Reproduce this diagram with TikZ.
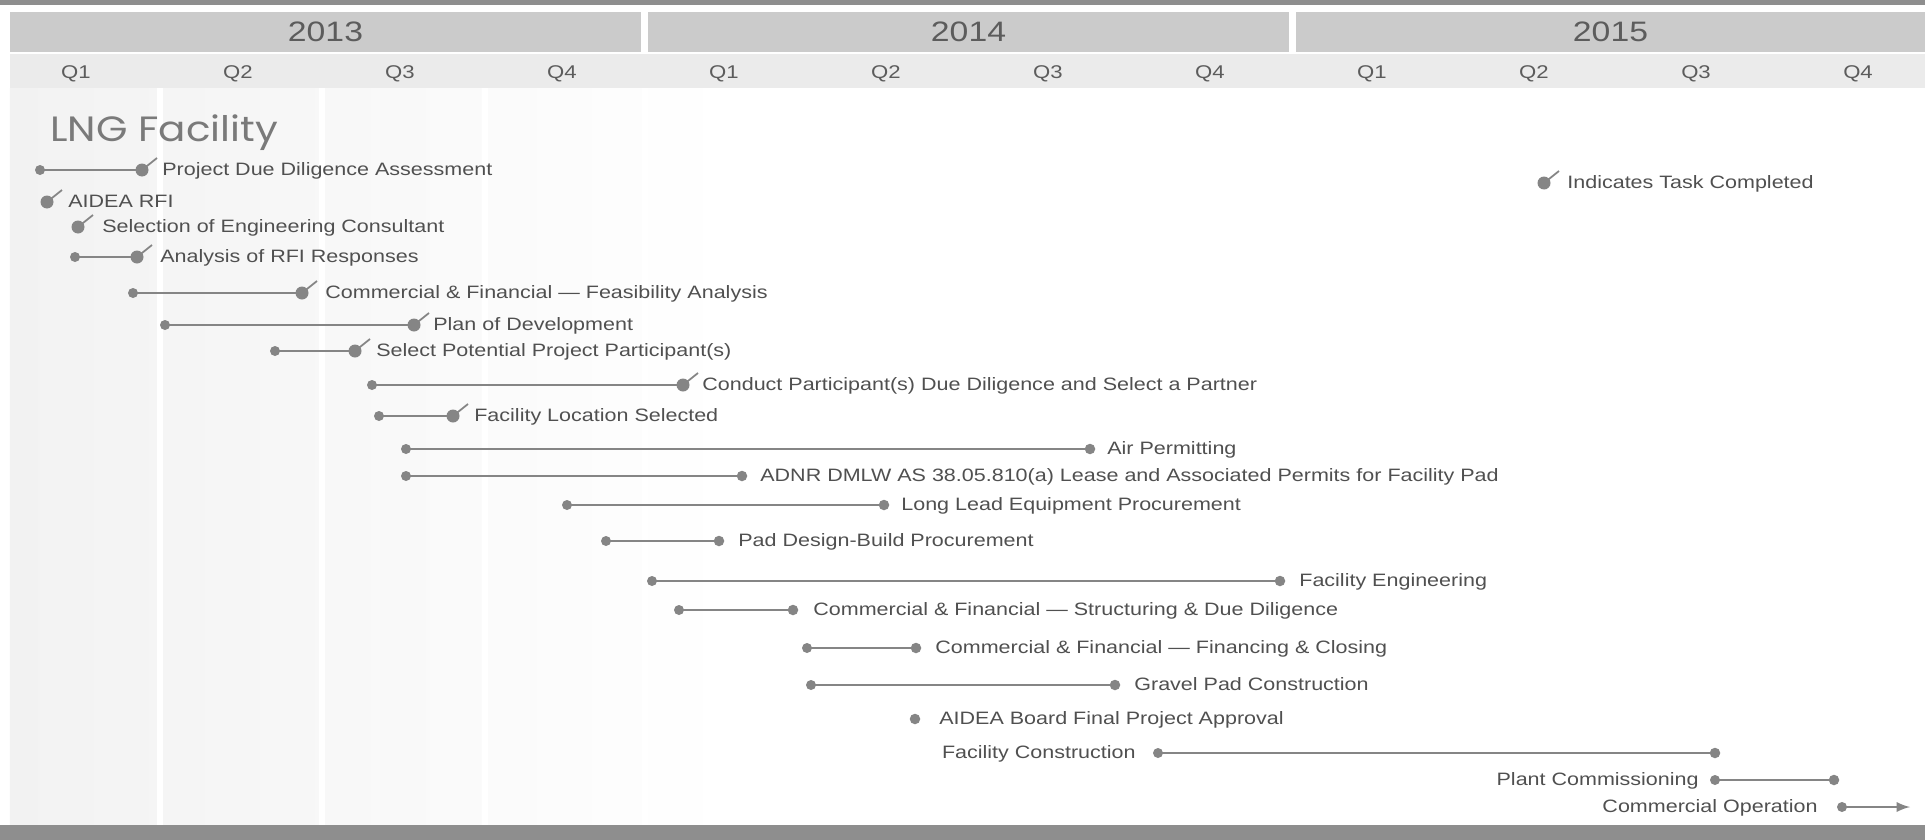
\documentclass[tikz,border=0pt]{standalone}
\usepackage{fontspec}
\setmainfont{Liberation Sans}[FakeStretch=1.2]
\newfontfamily\titlefont{Poppins}[FakeStretch=1.15]
\usetikzlibrary{arrows}
\definecolor{BarGray}{HTML}{858585}
\definecolor{TaskText}{HTML}{505050}
\definecolor{HeadText}{HTML}{5C5C5C}
\definecolor{YearBand}{HTML}{CBCBCB}
\definecolor{QuarterBand}{HTML}{EBEBEB}
\definecolor{EdgeBand}{HTML}{8E8E8E}
\definecolor{Column}{HTML}{F2F2F2}
\tikzstyle{none}=[inner sep=0pt]
\tikzstyle{tick}=[-,draw=BarGray,line width=1pt]
\tikzstyle{start}=[circle,fill=BarGray,inner sep=0pt,minimum size=2.0mm]
\tikzstyle{finish}=[circle,fill=BarGray,inner sep=0pt,minimum size=2.1mm]
\tikzstyle{done}=[circle,fill=BarGray,inner sep=0pt,minimum size=2.6mm,
  append after command={(\tikzlastnode.center) edge[style=tick] ++(0.30,0.24)}]
\tikzstyle{bar}=[-,draw=BarGray,line width=1.6pt]
\tikzstyle{arrow}=[-latex,draw=BarGray,line width=1.6pt]
\tikzstyle{task}=[inner sep=0pt,anchor=west,text=TaskText,text height=1.6ex,text depth=0.4ex,
  font=\fontsize{10.2}{12}\selectfont]
\tikzstyle{taskleft}=[task,anchor=east]
\tikzstyle{year}=[inner sep=0pt,text=HeadText,font=\fontsize{16}{18}\selectfont]
\tikzstyle{quarter}=[inner sep=0pt,text=HeadText,font=\fontsize{10.5}{12}\selectfont]
\tikzstyle{title}=[inner sep=0pt,anchor=west,text=black!52,font=\titlefont\fontsize{20}{24}\selectfont]

\begin{document}
\begin{tikzpicture}
  \useasboundingbox (0,0) rectangle (38.5,-16.8);
  % background bands
  \fill [white] (0,0) rectangle (38.5,-16.8);
  \shade [left color=Column,right color=white] (0.2,-1.76) rectangle (14.6,-16.5);
  \foreach \x in {3.2,6.44,9.7,12.9}
    \draw [white,line width=3pt] (\x,-1.76) -- (\x,-16.5);
  \fill [EdgeBand] (0,0) rectangle (38.5,-0.1);
  \fill [YearBand] (0.2,-0.24) rectangle (12.82,-1.04);
  \fill [YearBand] (12.96,-0.24) rectangle (25.78,-1.04);
  \fill [YearBand] (25.92,-0.24) rectangle (38.5,-1.04);
  \fill [QuarterBand] (0.2,-1.08) rectangle (38.5,-1.76);
  \fill [EdgeBand] (0,-16.5) rectangle (38.5,-16.8);

  \node [style=title] (0) at (1.00, -2.66) {LNG Facility};
  \node [style=done] (1) at (30.88, -3.66) {};
  \node [style=task] (2) at (31.34, -3.66) {Indicates Task Completed};
  \node [style=year] (3) at (6.51, -0.64) {2013};
  \node [style=year] (4) at (19.37, -0.64) {2014};
  \node [style=year] (5) at (32.21, -0.64) {2015};
  \node [style=quarter] (6) at (1.52, -1.48) {Q1};
  \node [style=quarter] (7) at (4.76, -1.48) {Q2};
  \node [style=quarter] (8) at (8.00, -1.48) {Q3};
  \node [style=quarter] (9) at (11.24, -1.48) {Q4};
  \node [style=quarter] (10) at (14.48, -1.48) {Q1};
  \node [style=quarter] (11) at (17.72, -1.48) {Q2};
  \node [style=quarter] (12) at (20.96, -1.48) {Q3};
  \node [style=quarter] (13) at (24.20, -1.48) {Q4};
  \node [style=quarter] (14) at (27.44, -1.48) {Q1};
  \node [style=quarter] (15) at (30.68, -1.48) {Q2};
  \node [style=quarter] (16) at (33.92, -1.48) {Q3};
  \node [style=quarter] (17) at (37.16, -1.48) {Q4};

  \node [style=start] (20) at (0.80, -3.40) {};
  \node [style=done] (21) at (2.84, -3.40) {};
  \node [style=task] (22) at (3.24, -3.40) {Project Due Diligence Assessment};
  \node [style=done] (23) at (0.94, -4.04) {};
  \node [style=task] (24) at (1.36, -4.04) {AIDEA RFI};
  \node [style=done] (25) at (1.56, -4.54) {};
  \node [style=task] (26) at (2.04, -4.54) {Selection of Engineering Consultant};
  \node [style=start] (27) at (1.50, -5.14) {};
  \node [style=done] (28) at (2.74, -5.14) {};
  \node [style=task] (29) at (3.20, -5.14) {Analysis of RFI Responses};
  \node [style=start] (30) at (2.66, -5.86) {};
  \node [style=done] (31) at (6.04, -5.86) {};
  \node [style=task] (32) at (6.50, -5.86) {Commercial \& Financial --- Feasibility Analysis};
  \node [style=start] (33) at (3.30, -6.50) {};
  \node [style=done] (34) at (8.28, -6.50) {};
  \node [style=task] (35) at (8.66, -6.50) {Plan of Development};
  \node [style=start] (36) at (5.50, -7.02) {};
  \node [style=done] (37) at (7.10, -7.02) {};
  \node [style=task] (38) at (7.52, -7.02) {Select Potential Project Participant(s)};
  \node [style=start] (39) at (7.44, -7.70) {};
  \node [style=done] (40) at (13.66, -7.70) {};
  \node [style=task] (41) at (14.04, -7.70) {Conduct Participant(s) Due Diligence and Select a Partner};
  \node [style=start] (42) at (7.58, -8.32) {};
  \node [style=done] (43) at (9.06, -8.32) {};
  \node [style=task] (44) at (9.48, -8.32) {Facility Location Selected};
  \node [style=start] (45) at (8.12, -8.98) {};
  \node [style=finish] (46) at (21.80, -8.98) {};
  \node [style=task] (47) at (22.14, -8.98) {Air Permitting};
  \node [style=start] (48) at (8.12, -9.52) {};
  \node [style=finish] (49) at (14.84, -9.52) {};
  \node [style=task] (50) at (15.20, -9.52) {ADNR DMLW AS 38.05.810(a) Lease and Associated Permits for Facility Pad};
  \node [style=start] (51) at (11.34, -10.10) {};
  \node [style=finish] (52) at (17.68, -10.10) {};
  \node [style=task] (53) at (18.02, -10.10) {Long Lead Equipment Procurement};
  \node [style=start] (54) at (12.12, -10.82) {};
  \node [style=finish] (55) at (14.38, -10.82) {};
  \node [style=task] (56) at (14.76, -10.82) {Pad Design-Build Procurement};
  \node [style=start] (57) at (13.04, -11.62) {};
  \node [style=finish] (58) at (25.60, -11.62) {};
  \node [style=task] (59) at (25.98, -11.62) {Facility Engineering};
  \node [style=start] (60) at (13.58, -12.20) {};
  \node [style=finish] (61) at (15.86, -12.20) {};
  \node [style=task] (62) at (16.26, -12.20) {Commercial \& Financial --- Structuring \& Due Diligence};
  \node [style=start] (63) at (16.14, -12.96) {};
  \node [style=finish] (64) at (18.32, -12.96) {};
  \node [style=task] (65) at (18.70, -12.96) {Commercial \& Financial --- Financing \& Closing};
  \node [style=start] (66) at (16.22, -13.70) {};
  \node [style=finish] (67) at (22.30, -13.70) {};
  \node [style=task] (68) at (22.68, -13.70) {Gravel Pad Construction};
  \node [style=finish] (69) at (18.30, -14.38) {};
  \node [style=task] (70) at (18.78, -14.38) {AIDEA Board Final Project Approval};
  \node [style=taskleft] (71) at (22.72, -15.06) {Facility Construction};
  \node [style=start] (72) at (23.16, -15.06) {};
  \node [style=finish] (73) at (34.30, -15.06) {};
  \node [style=taskleft] (74) at (33.98, -15.60) {Plant Commissioning};
  \node [style=start] (75) at (34.30, -15.60) {};
  \node [style=finish] (76) at (36.68, -15.60) {};
  \node [style=taskleft] (77) at (36.36, -16.14) {Commercial Operation};
  \node [style=start] (78) at (36.84, -16.14) {};
  \node [style=none] (79) at (38.20, -16.14) {};

  \draw [style=bar] (20.center) to (21.center);
  \draw [style=bar] (27.center) to (28.center);
  \draw [style=bar] (30.center) to (31.center);
  \draw [style=bar] (33.center) to (34.center);
  \draw [style=bar] (36.center) to (37.center);
  \draw [style=bar] (39.center) to (40.center);
  \draw [style=bar] (42.center) to (43.center);
  \draw [style=bar] (45.center) to (46.center);
  \draw [style=bar] (48.center) to (49.center);
  \draw [style=bar] (51.center) to (52.center);
  \draw [style=bar] (54.center) to (55.center);
  \draw [style=bar] (57.center) to (58.center);
  \draw [style=bar] (60.center) to (61.center);
  \draw [style=bar] (63.center) to (64.center);
  \draw [style=bar] (66.center) to (67.center);
  \draw [style=bar] (72.center) to (73.center);
  \draw [style=bar] (75.center) to (76.center);
  \draw [style=arrow] (78.center) to (79.center);
\end{tikzpicture}
\end{document}
